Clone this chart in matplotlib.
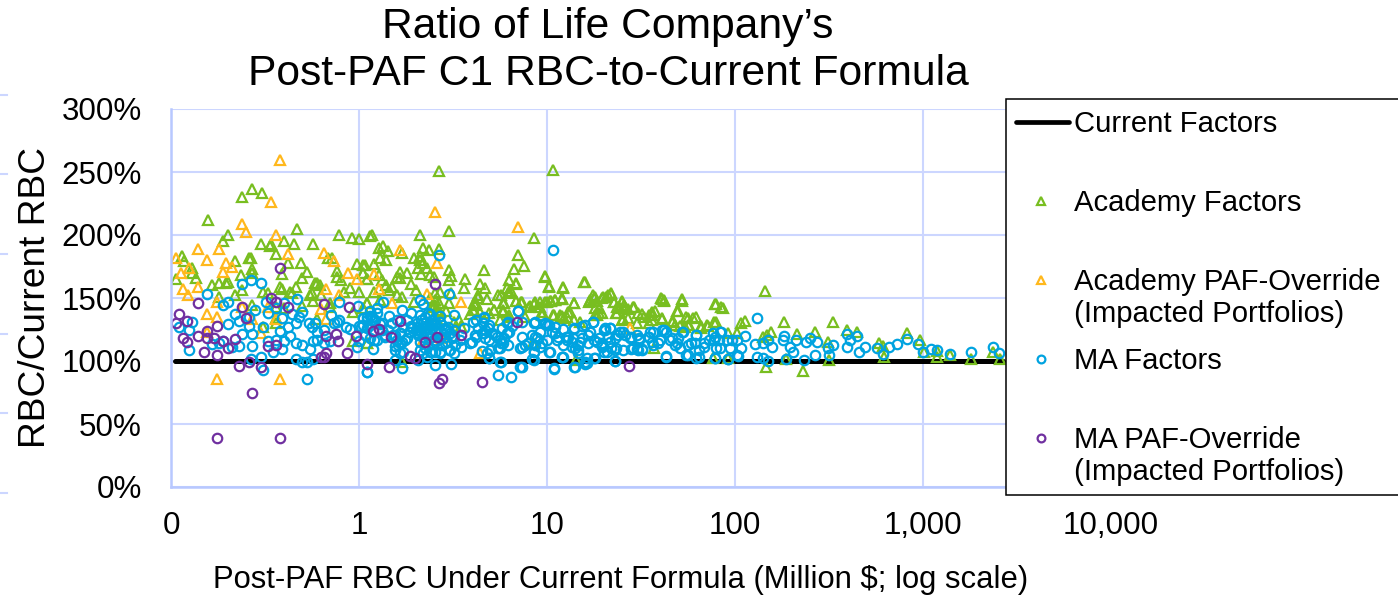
import matplotlib
matplotlib.use('Agg')
from matplotlib import pyplot as plt
from matplotlib.lines import Line2D
from matplotlib.patches import Rectangle

plt.rcParams['font.family'] = ['Liberation Sans', 'DejaVu Sans']

# (post-PAF RBC in million $, ratio in %)
academy = [
    (.27,236.6),(.305,233.7),(.24,230),(.157,212),(.47,205),(.2,200),(.19,195),(.3,193),(.34,193),(.335,191),
    (.4,195),(.45,193),(.57,193),(.78,200),(.92,198),(1,197),(1.14,199),(.36,185),(.26,181.5),(.265,181.5),
    (.49,178),(.42,178),(.22,179),(.115,183),(.117,179),(.13,174),(.13,170),(.135,166),(.106,165),(.27,173),
    (.27,170),(.235,168),(.39,169),(.53,171),(.5,166),(.68,182),(.72,182),(.76,171.5),(.76,167),(.8,164),
    (.98,177),(1.08,176),(1.05,170),(1.1,165),(.165,160),(.18,162),(.2,163),(.195,162),(.24,156.5),(.38,159),
    (.39,157),(.46,158.5),(.43,155),(.44,154),(.58,162),(.6,162),(.62,160),(.56,154),(.55,152),(.63,152.5),
    (1,155),(.83,154.5),(.9,158),(.18,151),(.22,152),(.31,155),(.33,154),(.57,148),(.5,144),(.27,144.5),
    (.36,143),(.7,146),(.7,143),(1.1,146),(1.05,142),(.93,139),(.36,134),(.36,130.5),(.31,127),(.4,142),
    (.6,133),(.93,115.5),(1.1,114),
    (2.66,251),(10.8,251.5),(3,203.5),(1.17,200),(2.1,200),(8.5,197.5),(1.27,190),(1.34,191),(1.43,187),(1.3,181.5),
    (1.4,180),(1.7,186),(2.2,190),(2.35,188),(2.66,189),(1.96,181.5),(2.1,183),(2.1,180),(2.2,177.5),(2.05,173.5),
    (2.3,173.5),(2.15,169),(2.4,168),(3,172),(3.1,167.5),(3,164.5),(1.2,177),(1.05,176),(1.05,170),(1.1,165),
    (1.27,168),(1.33,164),(1.2,155),(1.44,156),(1.4,160),(1.5,159),(1.6,166.5),(1.65,171),(1.8,170),(1.65,165.5),
    (1.9,161.5),(2,156.5),(2.5,167),(2.7,155),(2.55,154),(3.1,154),(1.7,151),(1.6,152),(1.95,147),(2.65,146),
    (3,146),(1.1,146),(1.3,148.5),(4.6,172),(3.65,165),(3.6,158),(4.4,161),(4.7,158),(4.3,152.5),(4.1,146),
    (4.8,149),(3.9,137),(4.1,140.5),(5.2,140.5),(5.7,152.5),(5.9,146),(5.8,140.5),(6.3,164),(6.8,161),(6.4,155.5),
    (6.2,154),(6.8,148),(7.3,146.5),(6.7,173),(7.5,175.5),(7,184),(8.1,144),(8.5,145),(9.2,146.5),(9.7,146.5),
    (10.5,148),(11,148.5),(12,149.5),(9.7,167),(10.2,159),(12.2,158),(9.4,136.5),(10.8,136.5),(11.8,135),(12.8,135),
    (6.2,135),(7.6,135),(8.4,114),(1.7,99.5),(3.2,131),(3.4,132.5),(3.5,128),(1.1,114),
    (2.54,148.5),(2.44,143),(2.6,140.5),(2.7,139),(2.54,144.5),(2.5,136),(2.6,133),(2.4,150),(2.9,140),(4.14,144.5),
    (4.31,150),(4.06,140.5),(4.4,139),(4.2,146),
    (15.8,163),(12,149),(14,146),(17.5,152),(18,150.5),(17,148),(18.5,148),(19.8,151),(22,153.7),(22.8,147),
    (25,147),(25.8,144.5),(24.5,142),(27,141),(23.5,138),(29,143),(32,137.3),(33,135),(25.5,133),(18,142),
    (18,136.5),(13,139),(12,136),(14,132.5),(36,136.5),(37.5,140),(36,132.5),(41,149),(42,148),(52,148),
    (50,140),(41,133),(56,134.5),(60,134.5),(47,132),(48,128.6),(56,128.6),(54,127),(66,126),(72,128),
    (79,145),(86,142),(79,131.2),(145,155.8),(183,131.2),(333,131.2),(107,130),(113,131.8),(92,122),(102,122.5),
    (141,119),(156,123),(148,120.7),(213,121.5),(265,123),(312,115.4),(396,125),(443,123),(585,114),(610,112),
    (825,122.5),(960,117),(1010,107),(1180,108.2),(1385,104.8),(1810,101.4),(2350,107.4),(2560,101.6),(231,92.4),(147,95.5),
    (14.2,100.8),(76,102),(92,102),(187,101.6),(316,100.8),(620,103.5),(1180,103.5),(37,110),
    (5.5,152.5),(6.1,157.7),(6.8,161.7),(6.3,155),(6.8,148),(7.4,147),(5.8,145.8),(5.2,140.5),(4.9,138),(5.8,139),
    (6.3,136.6),(8,143),(8.6,147),(9.2,143),(10,147),(10.4,148),(11,148.5),(12,149.8),(10.2,159.6),(12.2,159),
    (9.8,167.5),(16,163),(14,146.4),(13.2,139),(11.7,136.6),(10.9,136.6),(19,142),(18.5,136.6),(17,148.5),(17.7,149.8),
    (16.8,147),(19.7,149.8),(21,152.5),(5.6,132.6),(9.4,139.2),(12.3,134),(15,131),(19.7,138),
    (20.5,151),(22,153.3),(22.7,147),(25,148),(23.5,143),(26,143),(23.4,138),(28.5,143),(30.5,138),(25,132.6),
    (35,130),(36,139),(35,136.6),(40.5,150),(42,148.5),(52,149),(49,140),(41,134),(55,135.3),(62,134.8),
    (46,131.3),(66,127.4),(71,128.7),(77,131.3),(78,145.3),(84,142.7),(51,127.4),(57,128.7),(30,130),(19,138),(27,134),
]

academy_paf = [
    (.38,259.6),(.34,226),(.24,208.5),(.25,202),(.36,200),(.14,189),(.18,189),(.106,182),(.156,180),(.196,178),
    (.125,174),(.19,171),(.21,175),(.113,169.5),(.14,158.5),(.116,157),(.123,152.5),(.42,185),(.65,185.5),(.74,179),
    (.87,169.5),(.98,165),(.67,157),(.78,152),(.175,147),(.156,137),(.176,135),(.36,133),(.24,143),(.3,122.5),
    (.155,123),(.63,141),(.67,133),(.175,86),(.38,86),(.27,133),(.33,143),
    (2.55,218.6),(7,206),(1.65,188),(2.6,177.5),(1.2,169),(1.27,157.5),(2.3,153.5),(1.5,146),(3.5,147),(2.2,117),
    (4.4,106),(2.75,118),(27.5,126),
]

ma = [
    (.24,161),(.265,164),(.3,162),(.155,153),(.19,144.5),(.2,147),(.32,146.5),(.4,146),(.47,149),(.78,147),
    (.99,144),(.28,140.5),(.33,138),(.36,142),(.44,137.5),(.5,139),(.71,136.5),(.22,137),(.23,132),(.26,135),
    (.2,129.5),(.13,131),(.11,127),(.125,125),(.39,134),(.31,127),(.26,128),(.27,121.5),(.24,121.5),(.38,124),
    (.42,127),(.43,120),(.46,130),(.48,135),(.54,130.5),(.58,130),(.56,127),(.6,123),(.65,125),(.76,131),
    (.74,130),(.78,132.5),(.85,127),(.9,125.5),(1.05,134.5),(1.1,135),(1.02,127),(.97,111.5),(1,115.5),(.33,116),
    (.4,115.5),(.36,117),(.23,112),(.27,112),(.21,111),(.19,115.5),(.18,114),(.165,113.5),(.125,109),(.39,109.5),
    (.35,107.5),(.46,114),(.5,113),(.55,109.5),(.57,115.5),(.6,117),(.65,114),(.7,115.5),(.265,101.5),(.3,103),
    (.46,101.5),(.5,99),(.53,99),(.57,101.5),(.31,93),(.53,86),(1.1,91),
    (2.66,184),(10.8,188),(3,153.5),(1.34,146.5),(2.1,148.5),(2.2,145.5),(1.7,140.5),(1.25,142),(1.14,140),(3.2,136.5),
    (1.45,136),(7,140),(4.2,132.5),(4.6,134.5),(8.5,130.5),(7.4,131),(9.7,129),(10,128.7),(2.4,137.5),(2.7,136),
    (2.1,136.5),(1.9,138),(3.6,126),(1.14,135.5),(1.05,134),(1,127.5),(1.1,126),(1.2,132.5),(1.3,129),(1.5,130),
    (1.6,132.5),(1.8,132.5),(2,124.7),(2.1,124.7),(1.9,127.5),(2.2,130),(2.4,127.5),(2.55,128.7),(2.7,131),(2.85,126),
    (3.2,124.7),(3.2,119.5),(3.45,116.7),(3.5,111.5),(3.2,106),(3,108.8),(2.7,107.5),(2.45,107.5),(2.2,106),(2.1,108.8),
    (2.3,103.5),(2.05,122),(1.85,123.4),(1.65,122),(1.55,120.7),(1.75,116.7),(1.65,114),(1.55,112),(1.65,106),(1.55,100.9),
    (1.38,119.4),(1.2,116.7),(1.18,109.6),(1.1,91.6),(1.7,94.8),(2.55,96.6),(3.1,98),(2.05,100.9),(2.45,119.4),(2.55,116.7),
    (2.7,119.4),(2.85,114),(3.9,114),(4.2,119.4),(4.6,122),(4.9,116.7),(5.3,120.7),(5.6,116.7),(6.1,122),(6.2,131),
    (6.5,127.5),(5.8,114),(6.2,112.8),(5.6,110),(5,108.8),(4.9,102),(5.6,99.5),(7.4,111.5),(7.9,114),(8.5,107.5),
    (8.5,100.9),(9.2,111.5),(10.3,107.5),(11.3,116.7),(10,116.7),(12,103.5),(12.6,119.4),(11,122),(8.6,119.4),(9.2,123.4),
    (4.5,108),(7.4,95),(5.5,89),(6.4,87),(10.9,93.5),
    (1.91,126),(2.07,127.3),(2.15,132.6),(2.24,135.3),(2.34,137.9),(2.44,132.6),(2.54,130),(2.34,128.6),(2.24,126),(2.44,126),
    (2.54,123.3),(2.64,126),(2.75,128.6),(2.87,124.7),(2.99,127.3),(3.05,122),(2.15,123.3),(2.07,120.7),(2.29,122),(2.2,119.4),
    (2.11,115.4),(2.39,118),(2.54,115.4),(2.7,118),(2.87,119.4),(2.93,115.4),(2.75,112.8),(3.11,118),(3.24,112.8),(3.05,108.8),
    (2.39,107.5),(2.24,110),(2.54,107.5),(2.7,106),(2.03,130),(1.91,127.3),(1.87,123.3),(1.72,127.3),(1.65,122),(1.59,116.7),
    (1.69,115.4),(1.8,118),(1.62,112.8),(1.55,108.8),(1.72,107.5),(1.52,120.7),(1.43,124.7),(1.37,120.7),(1.32,124.7),(1.24,137.9),
    (1.17,135.3),(1.1,132.6),(1.05,128.6),(1.14,128.6),(1.22,132.6),(1.32,130),(1.24,116.7),(1.08,120.7),(1.14,118),
    (4.06,131),(4.31,126),(4.14,120.7),(4.49,122),(4.68,118),(3.98,115.4),(4.58,130),(4.87,126),
    (131,134),(17.5,130.7),(15.4,128),(12.2,125.4),(14,125.4),(21.6,126),(20,125),(17,123),(36.6,123.3),(41,124.6),
    (53,123.3),(62,120.7),(83,123.3),(76,122),(25.5,123.3),(24,120.7),(28,119.3),(31,118),(34.6,119.3),(19,118),
    (13.7,118),(12.7,116.7),(15,115.4),(13.6,111.4),(14.7,108.8),(16.5,114),(17.7,116.7),(19.5,112.7),(20,107.4),(21.6,115.4),
    (23.4,110),(25.5,108.8),(28,109.3),(30,109.3),(32,109.3),(36.6,112.7),(40,116.7),(46,118),(49,114),(51,110),
    (56,112.7),(61,114),(68,114),(73,116.7),(82,116.7),(83,110),(94,110),(96,116.7),(102,116.7),(113,120),
    (107,110),(102,104.8),(128,113.3),(141,114),(150,116.7),(157,110.9),(180,116.7),(183,119.9),(196,110.9),(210,116.7),
    (204,107.4),(250,118),(240,115.4),(272,115.4),(265,104.8),(312,110),(333,112.7),(316,104.8),(392,110.9),(392,121.5),
    (445,119.9),(410,116.7),(455,107.4),(490,110.9),(570,110),(660,111.4),(730,113.3),(820,117.6),(935,113.5),(1000,107.4),
    (1100,109.3),(1180,108.8),(1385,105.6),(1800,107.4),(2350,111.4),(2530,106),(610,105.3),(14,95.5),(16,99.5),(16,98),
    (18,102),(23,99.8),(43,103.5),(56,104.8),(62,102.7),(78,102),(92,101.3),(104,104.3),(131,103.5),(141,102),
    (150,100),(187,101.6),(232,100.8),(12,103.5),
    (7,139.7),(8.6,130.8),(9.8,130),(10.2,128.7),(17.6,130.8),(14,126.5),(16,128.7),(20.4,125),(11,126.8),(4.6,135.3),
    (4.9,128.7),(4.7,124.7),(5.1,122),(5.4,119.4),(5.75,126),(6.1,130),(6.3,123.3),(5.9,118),(5.7,114),(5.5,110),
    (5,108.8),(4.8,106),(4.9,102.2),(5.7,99.5),(7.4,119.4),(7.2,110),(7.6,112.8),(8.3,120.7),(8.8,118),(8.6,112.8),
    (8.5,107.5),(9.4,114),(8.3,101.4),(10.4,107.5),(10.6,123.3),(11.5,119.4),(12.2,103.5),(12.2,112.8),(13,119.4),(13.5,115.4),
    (14.1,110),(14.7,112.8),(15.3,118),(14.7,106),(16.3,102.2),(16.3,98.2),(17.8,102.2),(16.6,120.7),(18.5,115.4),(19.5,111.4),
    (20.8,107.5),(14.1,95.6),(7.2,95.6),(10.9,94.3),
    (20.4,126),(21.6,126),(24.5,123.4),(23,118),(21,119.4),(19.7,114),(22,110),(23,108.8),(26,120.7),(27.8,118),
    (30,120.7),(28.5,110),(30.6,108.8),(32,108.8),(31,116.7),(35.5,123.4),(35,119.4),(36,115.4),(39,114),(42,124.7),
    (43,123.4),(45,116.7),(48,112.8),(50,118),(52,123.4),(55,104.9),(62,120.7),(58,114),(64,108.8),(64,103),
    (43,104),(68,111.5),(78,119.4),(84,123.4),(79,110),(77,116.7),(91,116.7),(78,102),(92,101.7),(23,100),
]

ma_paf = [
    (.38,174),(.14,146),(.11,137.5),(.106,130),(.122,132),(.116,118.5),(.122,115),(.14,119.5),(.155,124),(.155,118.5),
    (.17,118),(.19,116),(.2,110),(.176,128),(.15,107),(.176,105),(.22,117.5),(.25,134.5),(.24,142.5),(.34,150),
    (.36,146.5),(.42,143),(.65,145),(.88,143),(.67,119.5),(.75,121.5),(.77,115.5),(.96,120),(.33,112),(.36,113),
    (.67,106),(.63,103),(.65,103),(.86,106),(.26,99),(.23,96),(.3,95.5),(.27,74.5),(.175,39),(.38,39),(1.1,97.5),
    (2.55,161),(1.65,131.8),(6.9,130.8),(1.27,125.5),(1.18,124),(1.48,119.4),(2.6,119.4),(3.5,121),(2.25,114.9),(1.87,104),
    (1.98,102),(1.45,95.3),(2.75,86),(2.65,82.3),(4.5,83.4),(27.3,96.3),
]

current_x = [.105, 2650]
current_y = [100, 100]

x_ticks = [.1, 1, 10, 100, 1000, 10000]
x_tick_labels = ['0', '1', '10', '100', '1,000', '10,000']
y_ticks = [0, 50, 100, 150, 200, 250, 300]
y_tick_labels = ['0%', '50%', '100%', '150%', '200%', '250%', '300%']

GREEN = '#78BE20'
ORANGE = '#FFB81C'
BLUE = '#00A3E0'
PURPLE = '#7030A0'
GRID = '#CCD6FF'
W, H = 1398, 595


def scatter(ax, points, marker, color, size):
    xs, ys = zip(*points)
    ax.plot(xs, ys, ls='none', marker=marker, ms=size, mfc='none', mec=color, mew=1.6)


fig = plt.figure(figsize=(W / 100, H / 100), dpi=100)
ax = fig.add_axes([171 / W, 1 - 487 / H, 940 / W, 378 / H])
ax.set_xscale('log')
ax.set_xlim(.1, 10000)
ax.set_ylim(0, 300)
ax.set_xticks(x_ticks, x_tick_labels)
ax.set_yticks(y_ticks, y_tick_labels)
ax.minorticks_off()
ax.tick_params(length=0, labelsize=22.6)
ax.tick_params(axis='x', pad=17)
ax.tick_params(axis='y', pad=21)
ax.grid(color=GRID, lw=1.5)
ax.set_axisbelow(True)
for side in ['top', 'right']:
    ax.spines[side].set_visible(False)
for side in ['left', 'bottom']:
    ax.spines[side].set_color('#B8C8FF')
    ax.spines[side].set_linewidth(1.8)

ax.plot(current_x, current_y, color='black', lw=3.6, solid_capstyle='round')
scatter(ax, academy, '^', GREEN, 7.2)
scatter(ax, academy_paf, '^', ORANGE, 7.2)
scatter(ax, ma, 'o', BLUE, 6.8)
scatter(ax, ma_paf, 'o', PURPLE, 6.8)

fig.text(608 / W, 1 - 27 / H, 'Ratio of Life Company’s', fontsize=30.7, ha='center', va='center')
fig.text(608 / W, 1 - 74 / H, 'Post-PAF C1 RBC-to-Current Formula', fontsize=30.7, ha='center', va='center')
fig.text(621 / W, 1 - 580 / H, 'Post-PAF RBC Under Current Formula (Million $; log scale)',
         fontsize=22.3, ha='center', va='center')
fig.text(36 / W, 1 - 298 / H, 'RBC/Current RBC', fontsize=26.7, rotation=90, ha='center', va='center')

# legend box runs off the right edge of the picture, so it is drawn by hand
fig.add_artist(Rectangle((1006 / W, 1 - 495 / H), 500 / W, 396 / H, transform=fig.transFigure,
                         fc='white', ec='black', lw=1.1, zorder=5))
fig.add_artist(Line2D([1016 / W, 1069 / W], [1 - 122 / H] * 2, color='black', lw=3.4,
                      solid_capstyle='round', zorder=6))
legend_rows = [(201, '^', GREEN, 'Academy Factors'),
               (280, '^', ORANGE, 'Academy PAF-Override\n(Impacted Portfolios)'),
               (359, 'o', BLUE, 'MA Factors'),
               (438, 'o', PURPLE, 'MA PAF-Override\n(Impacted Portfolios)')]
fig.text(1074 / W, 1 - 124 / H, 'Current Factors', fontsize=21.1, va='center', zorder=6)
for y, marker, color, label in legend_rows:
    fig.add_artist(Line2D([1041 / W], [1 - y / H], ls='none', marker=marker, ms=5.6, mfc='none',
                          mec=color, mew=1.6, zorder=6))
    fig.text(1074 / W, 1 - (y - 12) / H, label, fontsize=21.1, va='top', linespacing=1.18, zorder=6)

# stubs of a neighbouring chart left in the crop
for y in [95, 174, 254, 334, 413, 493]:
    fig.add_artist(Line2D([0, 7 / W], [1 - y / H] * 2, color=GRID, lw=1.5))

fig.savefig('out.png', dpi=100)
